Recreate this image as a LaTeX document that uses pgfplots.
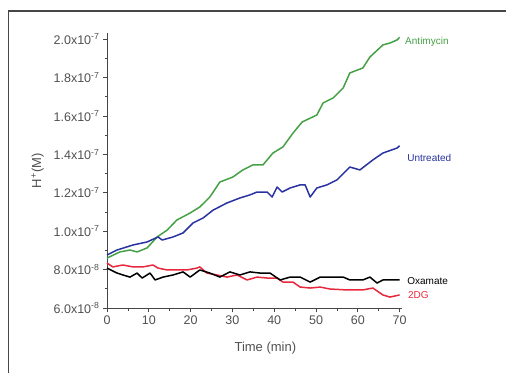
\documentclass[border=0pt]{standalone}
\usepackage{pgfplots}
\pgfplotsset{compat=1.18}
\usepackage{fontspec}
\setmainfont{Liberation Sans}
\definecolor{cgreen}{RGB}{70,160,70}
\definecolor{cblue}{RGB}{40,50,160}
\definecolor{cred}{RGB}{232,40,60}
\definecolor{caxis}{RGB}{70,70,70}
\definecolor{ctext}{RGB}{80,80,80}
\begin{document}
\begin{tikzpicture}[x=1pt,y=1pt]
\useasboundingbox (0,0) rectangle (506,373);
\draw[line width=1.6pt, caxis] (8.5,0) -- (8.5,362) -- (506,362);
\begin{axis}[
  at={(107pt,65pt)}, anchor=south west,
  scale only axis,
  width=294.7pt, height=274.6pt,
  xmin=0, xmax=70.5, ymin=6, ymax=20.3,
  axis lines=left,
  axis line style={-, caxis, line width=0.9pt},
  tick align=outside,
  major tick length=4pt, minor tick length=2.5pt,
  tick style={caxis, line width=0.8pt},
  xtick={0,10,...,70},
  minor xtick={5,15,...,65},
  ytick={6,8,...,20},
  minor ytick={7,9,...,19},
  yticklabels={6.0x10\textsuperscript{-8},8.0x10\textsuperscript{-8},1.0x10\textsuperscript{-7},1.2x10\textsuperscript{-7},1.4x10\textsuperscript{-7},1.6x10\textsuperscript{-7},1.8x10\textsuperscript{-7},2.0x10\textsuperscript{-7}},
  /pgf/number format/assume math mode=true,
  tick label style={font=\fontsize{12.5}{14}\selectfont, text=ctext},
  xlabel={Time (min)},
  ylabel={H\textsuperscript{+}(M)},
  label style={font=\fontsize{13}{15}\selectfont, text=ctext},
  xlabel style={xshift=11pt, yshift=-11pt},
  ylabel style={yshift=3pt},
  clip=false,
  every axis plot/.append style={line width=1.5pt, line join=round},
]
\addplot[cgreen] coordinates {
(0,8.60) (3.1,8.92) (5.5,9.02) (7.2,8.92) (9.6,9.13) (12.0,9.70) (14.4,10.06)
(16.7,10.58) (19.9,10.95) (22.2,11.26) (24.6,11.78) (27.0,12.56) (30.1,12.82)
(32.5,13.19) (34.9,13.45) (37.3,13.45) (39.7,14.07) (42.1,14.39) (44.5,15.11)
(46.7,15.69) (50.2,16.05) (51.7,16.68) (54.1,16.94) (56.5,17.46) (58.1,18.24)
(61.2,18.50) (62.9,19.07) (66.0,19.70) (67.7,19.80) (69.4,19.96) (70.0,20.10)
};
\addplot[cblue] coordinates {
(0,8.76) (2.4,9.02) (6.2,9.28) (9.6,9.44) (12.2,9.70) (13.2,9.54) (15.8,9.70)
(18.2,9.91) (20.6,10.43) (23.0,10.69) (25.4,11.10) (28.7,11.47) (31.8,11.73)
(34.2,11.89) (35.9,12.04) (38.3,12.04) (39.5,11.78) (40.7,12.30) (41.9,12.04)
(43.8,12.25) (46.2,12.41) (47.4,12.41) (48.6,11.78) (50.2,12.25) (52.6,12.41)
(55.0,12.67) (57.4,13.19) (58.1,13.34) (60.5,13.19) (63.6,13.71) (66.0,14.07)
(69.4,14.33) (70.0,14.45)
};
\addplot[cred] coordinates {
(0,8.34) (1.4,8.14) (3.8,8.24) (6.2,8.14) (8.6,8.14) (11.0,8.24) (12.2,8.08)
(14.4,7.98) (16.7,7.98) (19.1,7.98) (21.5,8.08) (22.2,8.14) (23.9,7.82)
(26.3,7.72) (28.7,7.61) (31.1,7.72) (33.5,7.46) (35.9,7.61) (38.3,7.56)
(40.7,7.56) (42.1,7.35) (44.5,7.35) (46.2,7.09) (48.6,7.04) (51.0,7.09)
(53.3,6.99) (57.4,6.94) (61.2,6.94) (63.6,7.04) (66.0,6.68) (67.7,6.57) (70.0,6.68)
};
\addplot[black] coordinates {
(0,8.08) (2.4,7.82) (3.8,7.72) (5.5,7.61) (7.2,7.82) (8.4,7.56) (10.3,7.82)
(11.5,7.46) (13.4,7.61) (15.8,7.72) (18.2,7.88) (19.9,7.61) (22.2,7.98)
(24.6,7.82) (27.0,7.61) (29.4,7.88) (31.8,7.72) (34.2,7.88) (36.6,7.82)
(39.0,7.82) (41.4,7.46) (43.8,7.61) (46.2,7.61) (48.6,7.35) (51.0,7.61)
(53.3,7.61) (56.5,7.61) (58.1,7.46) (61.2,7.46) (62.9,7.61) (64.6,7.30)
(66.0,7.46) (70.0,7.46)
};
\node[anchor=west, text=cgreen, font=\fontsize{10}{12}\selectfont, inner sep=0pt] at (axis cs:71.3,19.85) {Antimycin};
\node[anchor=west, text=cblue, font=\fontsize{10}{12}\selectfont, inner sep=0pt] at (axis cs:71.8,13.8) {Untreated};
\node[anchor=west, text=black, font=\fontsize{10}{12}\selectfont, inner sep=0pt] at (axis cs:71.8,7.4) {Oxamate};
\node[anchor=west, text=cred, font=\fontsize{10}{12}\selectfont, inner sep=0pt] at (axis cs:72.0,6.68) {2DG};
\end{axis}
\end{tikzpicture}
\end{document}
